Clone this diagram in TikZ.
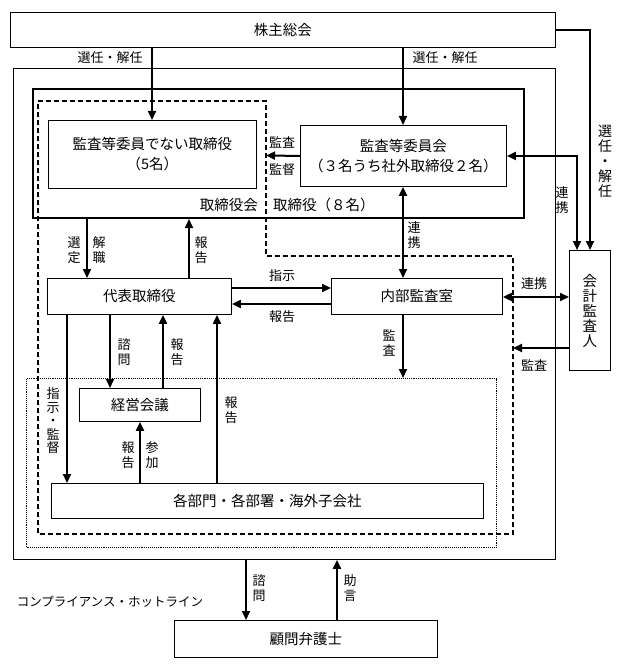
\documentclass[tikz,border=0pt]{standalone}
\usepackage{fontspec}
\setmainfont{Noto Sans CJK JP}
\usetikzlibrary{arrows.meta}
\begin{document}
\begin{tikzpicture}[x=1pt,y=-1pt,
  box/.style={draw, line width=0.9pt, inner sep=0, anchor=north west, font=\fontsize{14.5}{20}\selectfont, align=center},
  lbl/.style={inner sep=0, font=\fontsize{13}{14.5}\selectfont, align=center},
  arr/.style={line width=2pt, -{Triangle[length=9pt,width=8pt]}},
  darr/.style={line width=2pt, {Triangle[length=9pt,width=8pt]}-{Triangle[length=9pt,width=8pt]}}]
\useasboundingbox (0,0) rectangle (623,668);
\fill[white] (0,0) rectangle (623,668);
% x / y helper coordinates
\foreach \xx in {67,87,110,140,152,163,189,217,246,266,337,403,513,577,590} {\coordinate (c\xx) at (\xx,0);}
\foreach \yy in {288,297,304,348} {\coordinate (r\yy) at (0,\yy);}
% frames
\node[box, line width=0.8pt, minimum width=542, minimum height=491] (outer) at (13,68) {};
\node[box, line width=2pt, minimum width=491, minimum height=129] (tb) at (32,88) {};
\node[box, line width=1.1pt, dash pattern=on 1pt off 0.9pt, minimum width=470, minimum height=169] (dot) at (26,378) {};
\draw[line width=1.3pt, dash pattern=on 5pt off 3pt] (38,101) -- (266,101) -- (266,256) -- (513,256) -- (513,534) -- (38,534) -- cycle;
% boxes
\node[box, minimum width=545, minimum height=35] (ga) at (10,12) {株主総会};
\node[box, minimum width=208, minimum height=68] (nd) at (48,120) {監査等委員でない取締役\\（5名）};
\node[box, minimum width=206, minimum height=61] (ac) at (300,125) {監査等委員会\\（３名うち社外取締役２名）};
\node[box, minimum width=41, minimum height=120, font=\fontsize{14.5}{15}\selectfont] (ca) at (569,250) {会\\計\\監\\査\\人};
\node[box, minimum width=184, minimum height=36] (ceo) at (47,278) {代表取締役};
\node[box, minimum width=171, minimum height=36] (ia) at (331,278) {内部監査室};
\node[box, minimum width=121, minimum height=33] (mm) at (79,388) {経営会議};
\node[box, minimum width=432, minimum height=35] (dept) at (51,483) {各部門・各部署・海外子会社};
\node[box, minimum width=263, minimum height=37] (law) at (174,620) {顧問弁護士};
\node[inner sep=0, anchor=east, font=\fontsize{14.5}{16}\selectfont] (tbk) at (258,205) {取締役会};
\node[inner sep=0, anchor=west, font=\fontsize{14.5}{16}\selectfont] (tb8) at (273,205) {取締役（８名）};
% connectors
\draw[arr] (c152 |- ga.south) -- (c152 |- nd.north);
\node[lbl] (l1) at (110,58) {選任・解任};
\draw[arr] (c403 |- ga.south) -- (c403 |- ac.north);
\node[lbl] (l2) at (445,58) {選任・解任};
\draw[arr] (ga.east) -| (c590 |- ca.north);
\node[lbl, font=\fontsize{14}{15}\selectfont] (l3) at (605,161) {選\\任\\・\\解\\任};
\draw[darr] (ac.east) -| (c577 |- ca.north);
\node[lbl] (l4) at (562,200) {連\\携};
\coordinate (dashA) at (266,155.5);
\draw[arr] (ac.west) -- (dashA);
\node[lbl] (l5) at (282,142) {監査};
\node[lbl] (l6) at (282,170) {監督};
\draw[darr] (c403 |- ac.south) -- (c403 |- ia.north);
\node[lbl] (l7) at (414,235) {連\\携};
\draw[arr] (c87 |- tb.south) -- (c87 |- ceo.north);
\node[lbl] (l8) at (74,250) {選\\定};
\node[lbl] (l9) at (99,250) {解\\職};
\draw[arr] (c189 |- ceo.north) -- (c189 |- tb.south);
\node[lbl] (l10) at (201,250) {報\\告};
\draw[arr] (ceo.east |- r288) -- (ia.west |- r288);
\node[lbl] (l11) at (282,276) {指示};
\draw[arr] (ia.west |- r304) -- (ceo.east |- r304);
\node[lbl] (l12) at (282,317) {報告};
\draw[darr] (ia.east |- r297) -- (ca.west |- r297);
\node[lbl] (l13) at (534,284) {連携};
\coordinate (dashB) at (513,348);
\draw[arr] (ca.west |- r348) -- (dashB);
\node[lbl] (l14) at (534,365) {監査};
\draw[arr] (c403 |- ia.south) -- (c403 |- dot.north);
\node[lbl] (l15) at (389,343) {監\\査};
\draw[arr] (c67 |- ceo.south) -- (c67 |- dept.north);
\node[lbl, font=\fontsize{13}{13.5}\selectfont] (l16) at (53,421) {指\\示\\・\\監\\督};
\draw[arr] (c110 |- ceo.south) -- (c110 |- mm.north);
\node[lbl] (l17) at (124,352) {諮\\問};
\draw[arr] (c163 |- mm.north) -- (c163 |- ceo.south);
\node[lbl] (l18) at (177,352) {報\\告};
\draw[arr] (c217 |- dept.north) -- (c217 |- ceo.south);
\node[lbl] (l19) at (231,410) {報\\告};
\draw[arr] (c140 |- dept.north) -- (c140 |- mm.south);
\node[lbl] (l20) at (128,455) {報\\告};
\node[lbl] (l21) at (152,455) {参\\加};
\draw[arr] (c246 |- outer.south) -- (c246 |- law.north);
\node[lbl] (l22) at (259,588) {諮\\問};
\draw[arr] (c337 |- law.north) -- (c337 |- outer.south);
\node[lbl] (l23) at (350,588) {助\\言};
\node[lbl, font=\fontsize{12.5}{14}\selectfont] (l24) at (110,602) {コンプライアンス・ホットライン};
\end{tikzpicture}
\end{document}
